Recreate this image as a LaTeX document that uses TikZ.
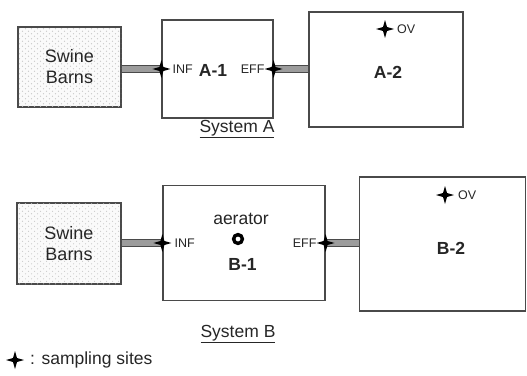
\documentclass[tikz,border=0pt]{standalone}
\usepackage{fontspec}
\setmainfont{Liberation Sans}
\usetikzlibrary{patterns.meta,positioning,calc}
\definecolor{rim}{HTML}{4A4A4A}
\definecolor{pipegray}{HTML}{9C9C9C}
\tikzdeclarepattern{name=barndots, type=uncolored,
  bottom left={(-.5pt,-.5pt)}, top right={(6.5pt,5.5pt)}, tile size={(6pt,5pt)},
  code={\fill (1.5pt,1.2pt) circle (0.55pt); \fill (4.5pt,3.7pt) circle (0.55pt);}}
\tikzset{
  tank/.style={rectangle, draw=rim, line width=1.2pt, fill=white, inner sep=0pt},
  barn/.style={rectangle, draw=rim, line width=1.2pt, inner sep=0pt, fill=gray!4,
               postaction={pattern=barndots, pattern color=gray!45},
               align=center, font=\fontsize{18}{21}\selectfont, text=black!85},
  pipe/.style={draw=rim, line width=0.9pt, double=pipegray, double distance=6pt},
  tag/.style={font=\fontsize{12.5}{14}\selectfont, inner sep=0pt, text=black!85},
  unit/.style={font=\fontsize{17.5}{20}\selectfont\bfseries, inner sep=0pt, text=black!85},
  caption/.style={font=\fontsize{17.5}{20}\selectfont, inner sep=0pt, text=black!85},
  site/.pic={\fill[black] (0,-9) -- (2,-2) -- (9,0) -- (2,2) -- (0,9)
             -- (-2,2) -- (-9,0) -- (-2,-2) -- cycle;},
}

\begin{document}
\begin{tikzpicture}[x=1pt, y=-1pt]
  \useasboundingbox (0,0) rectangle (527,375);

  % System A
  \node[barn, minimum width=103pt, minimum height=80pt] (barnsA) at (69.5,67) {Swine\\Barns};
  \node[tank, minimum width=111pt, minimum height=98pt] (a1) at (217.5,69) {};
  \node[tank, minimum width=154pt, minimum height=115pt] (a2) at (386,69.5) {};
  \draw[pipe] (barnsA.east |- a1.west) -- (a1.west);
  \draw[pipe] (a1.east) -- (a1.east -| a2.west);
  \pic at (a1.west) {site};
  \pic at (a1.east) {site};
  \coordinate (ovA) at (385,29);
  \pic at (ovA) {site};
  \node[tag, right=11pt of a1.west] (infA) {INF};
  \node[tag, left=9pt of a1.east] (effA) {EFF};
  \node[tag, right=12pt of ovA] (ovtA) {OV};
  \node[unit] (lblA1) at (213,70) {A-1};
  \node[unit] (lblA2) at (388,72) {A-2};
  \node[caption] (sysA) at (237,129) {\underline{System A}};

  % System B
  \node[barn, minimum width=104pt, minimum height=81pt] (barnsB) at (69,243.5) {Swine\\Barns};
  \node[tank, minimum width=162pt, minimum height=115pt] (b1) at (244,243) {};
  \node[tank, minimum width=166pt, minimum height=134pt] (b2) at (442.5,244) {};
  \draw[pipe] (barnsB.east |- b1.west) -- (b1.west);
  \draw[pipe] (b1.east) -- (b1.east -| b2.west);
  \pic at (b1.west) {site};
  \pic at (b1.east) {site};
  \coordinate (ovB) at (445,195);
  \pic at (ovB) {site};
  \node[tag, right=12pt of b1.west] (infB) {INF};
  \node[tag, left=9pt of b1.east] (effB) {EFF};
  \node[tag, right=13pt of ovB] (ovtB) {OV};
  \node[caption] (aer) at (241,219) {aerator};
  \draw[black, line width=3.4pt] (238,239) circle (4.4pt);
  \node[unit] (lblB1) at (242.5,264) {B-1};
  \node[unit] (lblB2) at (451,248.5) {B-2};
  \node[caption] (sysB) at (238,334) {\underline{System B}};

  % legend
  \coordinate (key) at (15,360);
  \pic at (key) {site};
  \node[caption, right=15pt of key] (keytxt) {: sampling sites};
\end{tikzpicture}
\end{document}
